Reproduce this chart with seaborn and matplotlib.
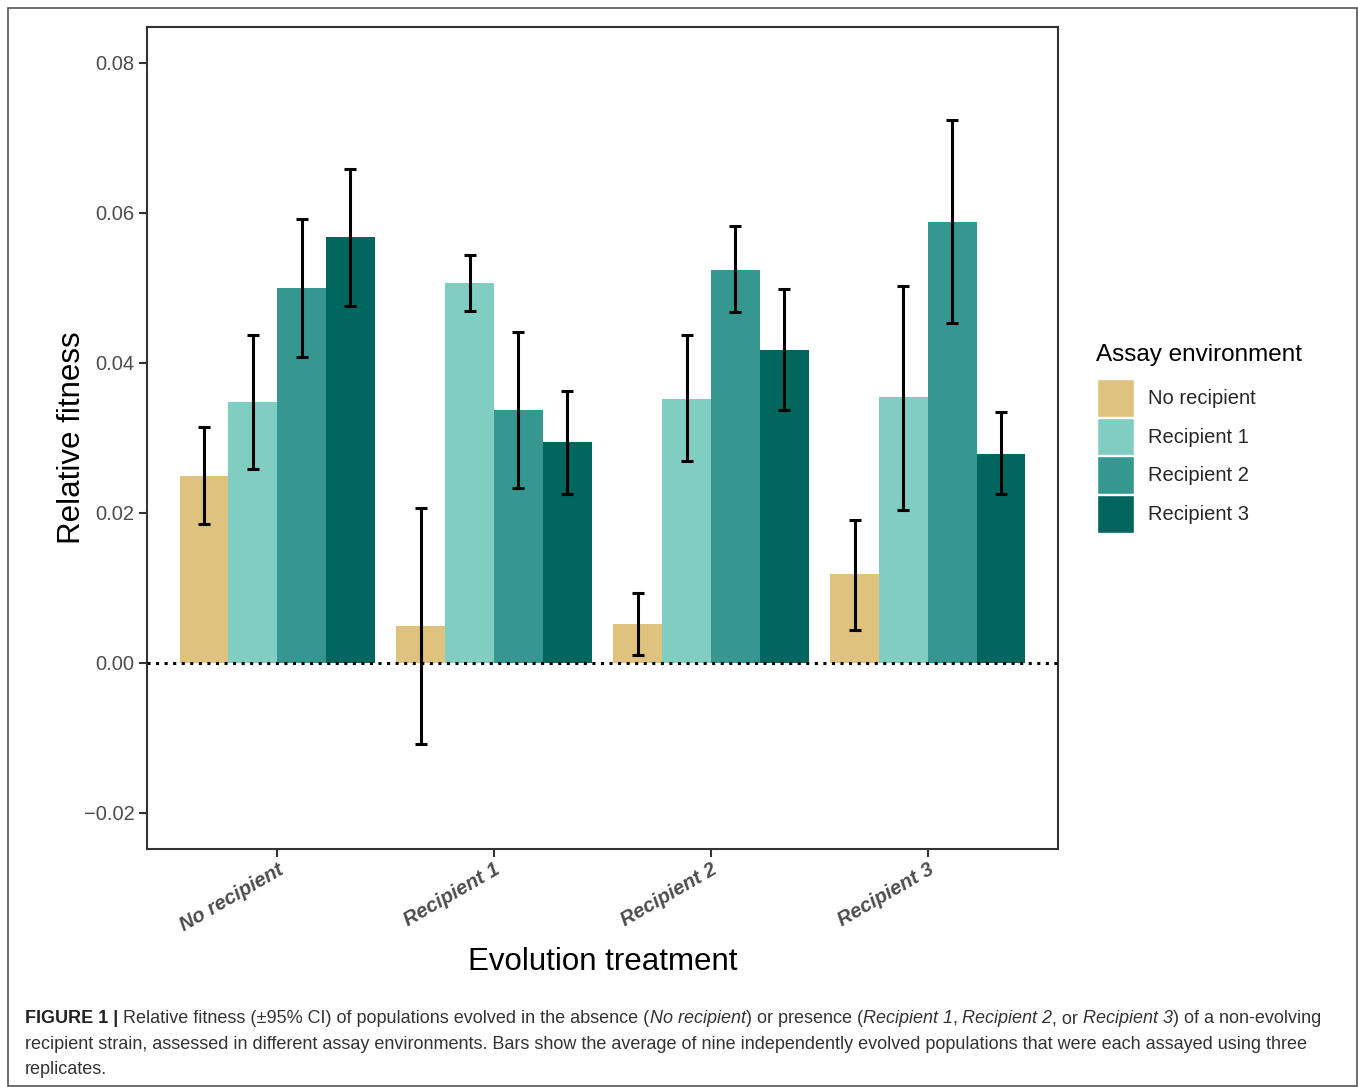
import matplotlib
matplotlib.use("Agg")
import matplotlib.pyplot as plt
import matplotlib.patches as mpatches
import seaborn as sns
import pandas as pd

treatments = ["No recipient", "Recipient 1", "Recipient 2", "Recipient 3"]
environments = ["No recipient", "Recipient 1", "Recipient 2", "Recipient 3"]
env_colors = ["#DFC27D", "#80CDC1", "#35978F", "#01665E"]

# mean fitness per treatment, one list per assay environment
fit_none = [0.0249, 0.0049, 0.0052, 0.0119]
fit_r1 = [0.0348, 0.0507, 0.0352, 0.0355]
fit_r2 = [0.0500, 0.0337, 0.0524, 0.0588]
fit_r3 = [0.0568, 0.0295, 0.0417, 0.0279]

# 95% CI bounds
lo_none = [0.0185, -0.0108, 0.0011, 0.0044]
hi_none = [0.0315, 0.0207, 0.0093, 0.0191]
lo_r1 = [0.0259, 0.0469, 0.0269, 0.0204]
hi_r1 = [0.0437, 0.0544, 0.0437, 0.0503]
lo_r2 = [0.0408, 0.0233, 0.0468, 0.0453]
hi_r2 = [0.0592, 0.0441, 0.0583, 0.0724]
lo_r3 = [0.0476, 0.0225, 0.0337, 0.0225]
hi_r3 = [0.0659, 0.0363, 0.0499, 0.0335]

means = [fit_none, fit_r1, fit_r2, fit_r3]
lows = [lo_none, lo_r1, lo_r2, lo_r3]
highs = [hi_none, hi_r1, hi_r2, hi_r3]

rows = []
for env, m in zip(environments, means):
    for t, v in zip(treatments, m):
        rows.append({"treatment": t, "environment": env, "fitness": v})
df = pd.DataFrame(rows)

sns.set_style("white")
plt.rcParams["font.family"] = ["Liberation Sans", "DejaVu Sans"]

fig = plt.figure(figsize=(13.58, 10.87), dpi=100)
ax = fig.add_axes([147 / 1358, 1 - 849 / 1087, (1058 - 147) / 1358, (849 - 27) / 1087])

sns.barplot(data=df, x="treatment", y="fitness", hue="environment",
            order=treatments, hue_order=environments, palette=env_colors,
            errorbar=None, width=0.9, saturation=1, ax=ax, zorder=2)

for cont, m, lo, hi in zip(ax.containers, means, lows, highs):
    for bar, v, l, h in zip(cont, m, lo, hi):
        bar.set_edgecolor("none")
        xc = bar.get_x() + bar.get_width() / 2
        ax.errorbar(xc, v, yerr=[[v - l], [h - v]], fmt="none", ecolor="black",
                    elinewidth=2.2, capsize=4, capthick=2.2, zorder=4)

ax.axhline(0, color="black", linestyle=(0, (1, 1.8)), linewidth=2.2, zorder=3)

ax.set_xlim(-0.6, 3.6)
ax.set_ylim(-0.0248, 0.0848)
ax.set_yticks([-0.02, 0.0, 0.02, 0.04, 0.06, 0.08])
ax.set_yticklabels(["\u22120.02", "0.00", "0.02", "0.04", "0.06", "0.08"])
ax.tick_params(axis="y", labelsize=14.5, labelcolor="#4D4D4D", length=6, width=1.5,
               color="#333333", left=True, pad=3)
ax.tick_params(axis="x", labelsize=14.5, labelcolor="#4D4D4D", length=6, width=1.5,
               color="#333333", bottom=True, pad=2)
for lab in ax.get_xticklabels():
    lab.set_rotation(30)
    lab.set_ha("right")
    lab.set_va("top")
    lab.set_rotation_mode("anchor")
    lab.set_fontweight("bold")
    lab.set_fontstyle("italic")

for s in ax.spines.values():
    s.set_visible(True)
    s.set_color("#333333")
    s.set_linewidth(1.5)

ax.set_xlabel("Evolution treatment", fontsize=22.5, color="black", labelpad=9)
ax.set_ylabel("Relative fitness", fontsize=22.5, color="black", labelpad=-2)

# legend: title as separate text so the gap below it can match
fig.text(1096 / 1358, 1 - 355 / 1087, "Assay environment", fontsize=17.5,
         ha="left", va="center", color="black")
handles = [mpatches.Patch(facecolor=c, edgecolor="white", linewidth=1) for c in env_colors]
ax.legend(handles, environments, loc="upper left",
          bbox_to_anchor=(1097 / 1358, 1 - 379 / 1087), bbox_transform=fig.transFigure,
          frameon=False, fontsize=14.5, handlelength=1.85, handleheight=2.5,
          labelspacing=0.05, handletextpad=0.7, borderpad=0, borderaxespad=0)

# outer frame of the figure panel
fig.add_artist(mpatches.Rectangle((8 / 1358, 1 / 1087), 1349 / 1358, 1078 / 1087,
                                  transform=fig.transFigure, fill=False,
                                  edgecolor="#555555", linewidth=1.2))

# caption with mixed font styles
renderer = fig.canvas.get_renderer()
cap_size = 13
probe_a = fig.text(0, 0, "xx", fontsize=cap_size)
probe_b = fig.text(0, 0, "x x", fontsize=cap_size)
space_w = probe_b.get_window_extent(renderer).width - probe_a.get_window_extent(renderer).width
probe_a.remove()
probe_b.remove()

caption_lines = [
    [("FIGURE 1 |", "bold", "normal"), (" Relative fitness (\u00b195% CI) of populations evolved in the absence (", "normal", "normal"),
     ("No recipient", "normal", "italic"), (") or presence (", "normal", "normal"),
     ("Recipient 1", "normal", "italic"), (",", "normal", "normal"), (" Recipient 2", "normal", "italic"),
     (", or", "normal", "normal"), (" Recipient 3", "normal", "italic"), (") of a non-evolving", "normal", "normal")],
    [("recipient strain, assessed in different assay environments. Bars show the average of nine independently evolved populations that were each assayed using three", "normal", "normal")],
    [("replicates.", "normal", "normal")],
]
line_base = [1023, 1049, 1074]
for pieces, yp in zip(caption_lines, line_base):
    xpix = 25
    for txt, w, st in pieces:
        lead = len(txt) - len(txt.lstrip(" "))
        xpix += lead * space_w
        body = txt.strip(" ")
        t = fig.text(xpix / 1358, 1 - yp / 1087, body, fontsize=cap_size, fontweight=w,
                     fontstyle=st, color="#333333" if w == "normal" else "#222222",
                     ha="left", va="baseline")
        xpix += t.get_window_extent(renderer).width
        trail = len(txt) - len(txt.rstrip(" "))
        xpix += trail * space_w

fig.savefig("out.png", dpi=100)
